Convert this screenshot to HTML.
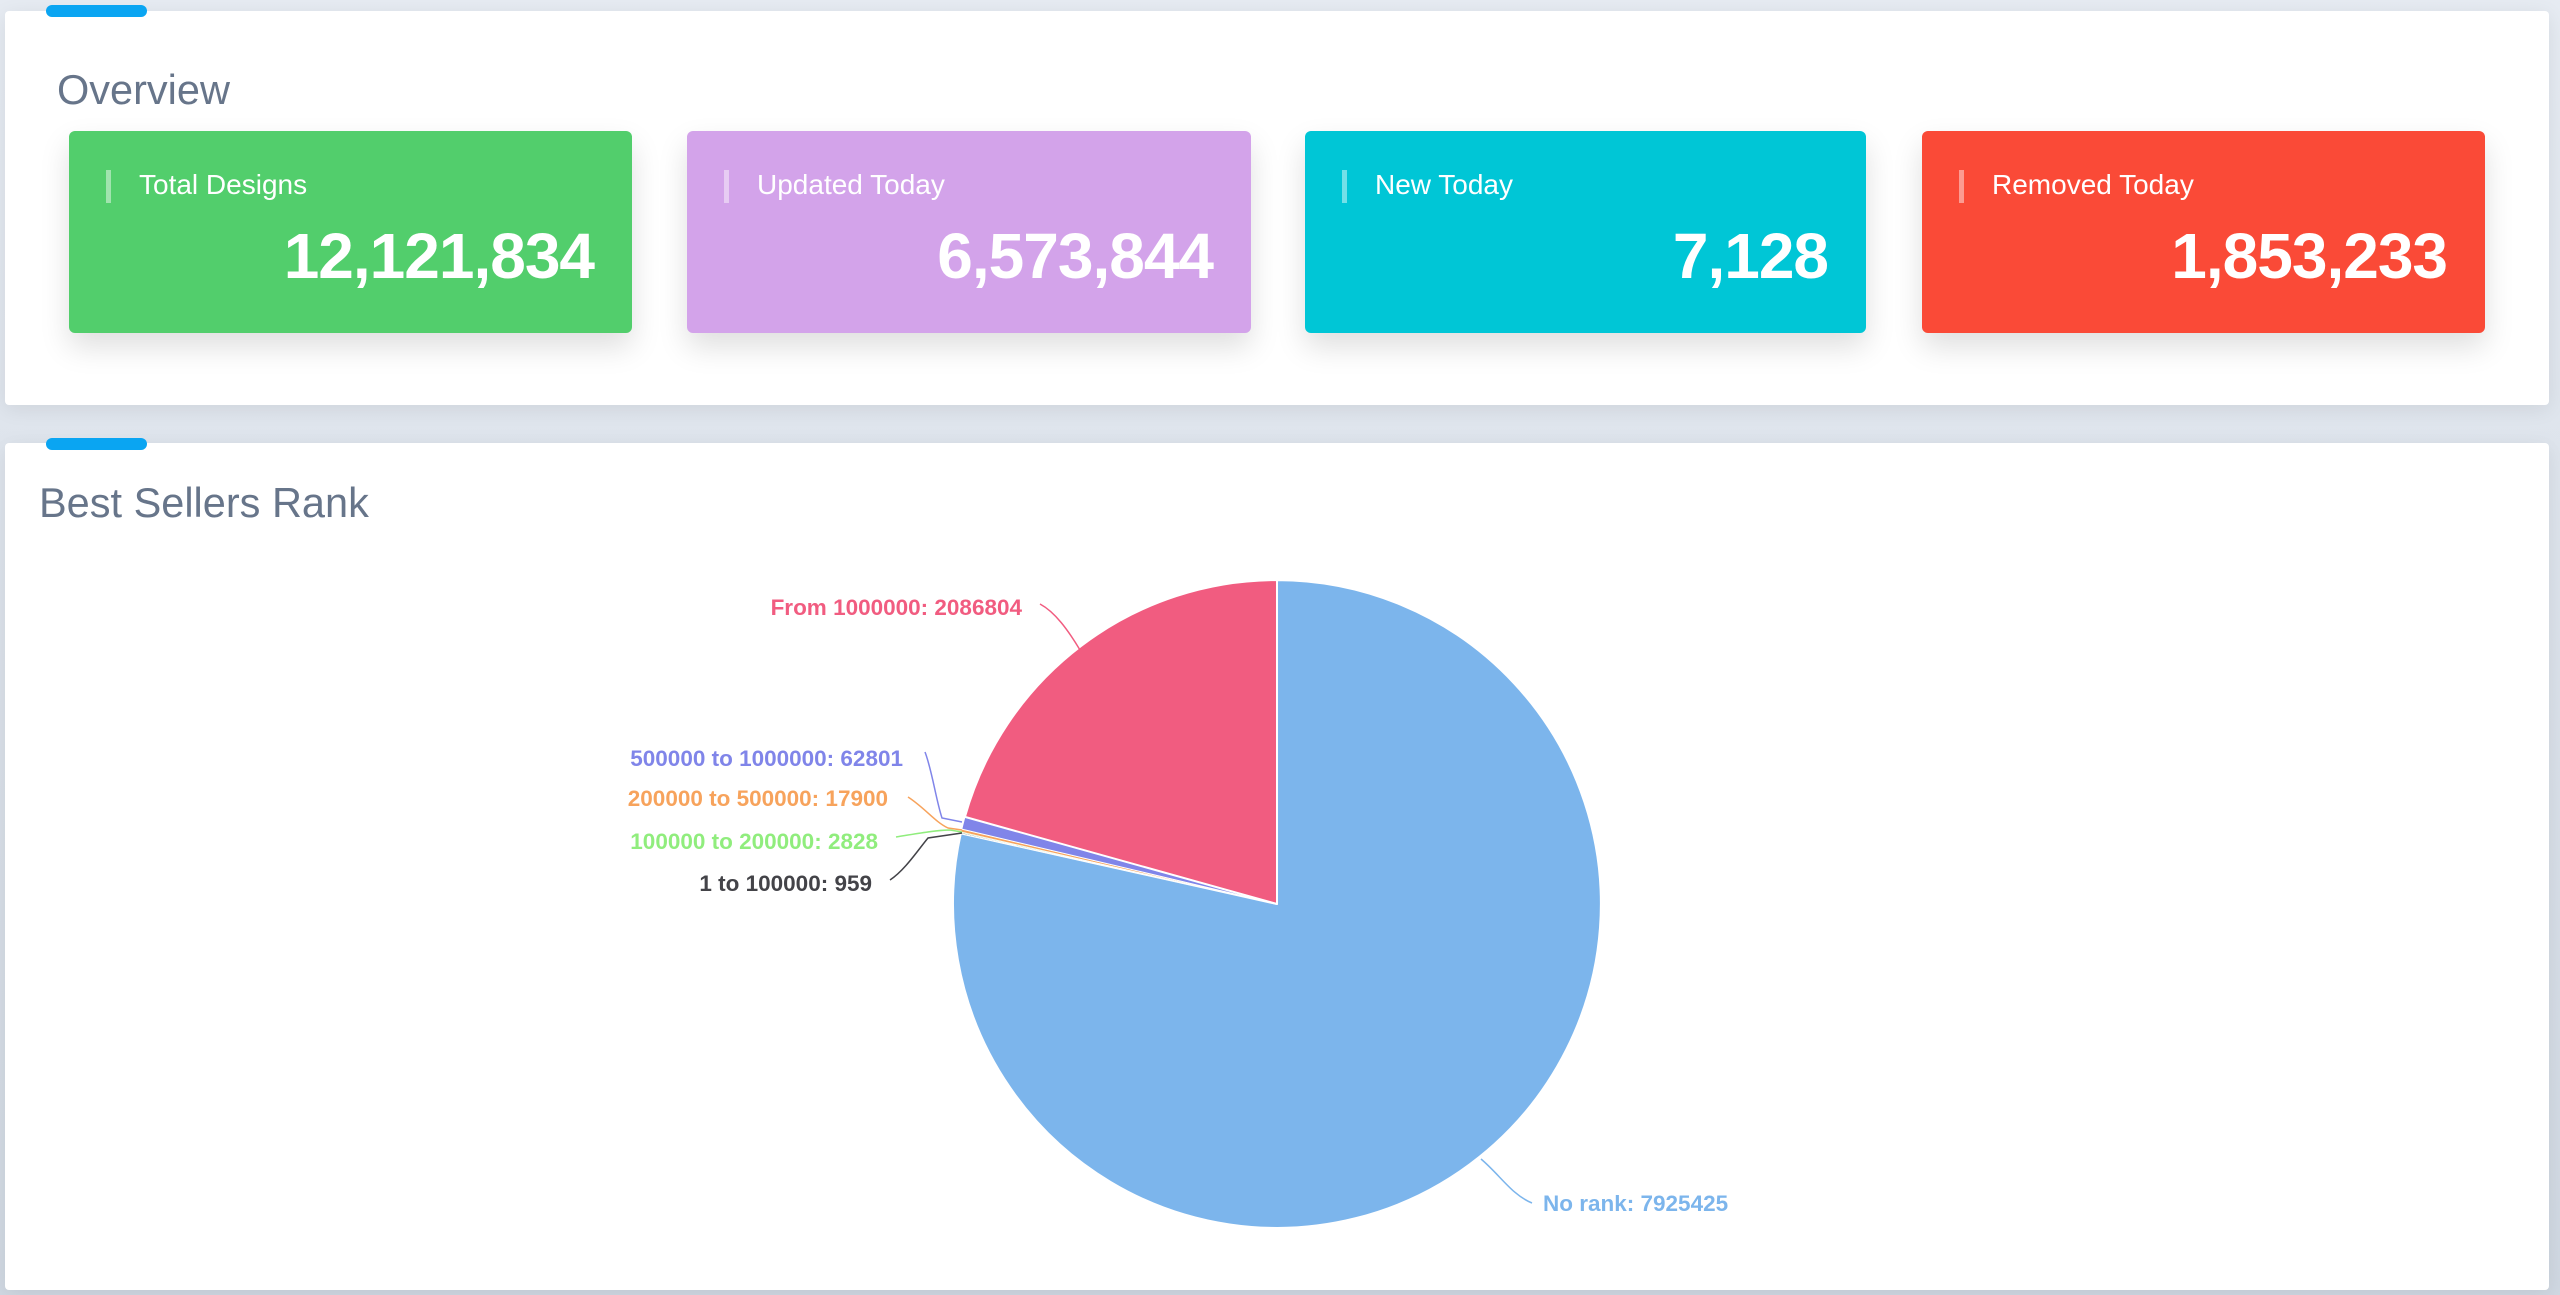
<!DOCTYPE html>
<html><head><meta charset="utf-8"><style>
body{margin:0;width:2560px;height:1295px;background:linear-gradient(#e6ebf2,#d0d8e2);font-family:"Liberation Sans",sans-serif;position:relative;overflow:hidden}
.card{position:absolute;left:5px;width:2544px;background:#fff;border-radius:4px;box-shadow:0 4px 20px rgba(0,0,0,0.08)}
.tab{position:absolute;left:46px;width:101px;height:12px;background:#0aa5f2;border-radius:6px}
.title{position:absolute;color:#67758a;font-size:41.5px}
.stat{position:absolute;top:131px;height:202px;border-radius:6px;box-shadow:0 14px 30px rgba(0,0,0,0.13);color:#fff}
.stat .bar{position:absolute;left:37px;top:39px;width:5px;height:33px;background:rgba(255,255,255,0.45)}
.stat .lbl{position:absolute;left:70px;top:38px;font-size:28px}
.stat .num{position:absolute;right:38px;top:88px;font-size:64px;font-weight:bold;letter-spacing:-1px}
</style></head><body>
<div class="card" style="top:11px;height:394px"></div>
<div class="tab" style="top:5px"></div>
<div class="title" style="left:57px;top:66px">Overview</div>
<div class="stat" style="left:69px;width:563px;background:#52ce6c"><div class="bar"></div><div class="lbl">Total Designs</div><div class="num">12,121,834</div></div>
<div class="stat" style="left:687px;width:564px;background:#d3a3ea"><div class="bar"></div><div class="lbl">Updated Today</div><div class="num">6,573,844</div></div>
<div class="stat" style="left:1305px;width:561px;background:#00c6d6"><div class="bar"></div><div class="lbl">New Today</div><div class="num">7,128</div></div>
<div class="stat" style="left:1922px;width:563px;background:#fa4a37"><div class="bar"></div><div class="lbl">Removed Today</div><div class="num">1,853,233</div></div>
<div class="card" style="top:443px;height:847px"></div>
<div class="tab" style="top:438px"></div>
<div class="title" style="left:39px;top:479px">Best Sellers Rank</div>
<svg style="position:absolute;left:0;top:0" width="2560" height="1295">
<g transform="translate(1277,904) scale(1.006) translate(-1277,-903)">
<g stroke="#fff" stroke-width="2" stroke-linejoin="round">
<path d="M1277,903 L1277,581 A322,322 0 1 1 962.7,832.8 Z" fill="#7cb5ec"/>
<path d="M1277,903 L962.7,832.8 A322,322 0 0 1 962.9,832.1 Z" fill="#434348" stroke-width="0.5"/>
<path d="M1277,903 L962.9,832.1 A322,322 0 0 1 963.1,831.3 Z" fill="#90ed7d" stroke-width="0.5"/>
<path d="M1277,903 L963.1,831.3 A322,322 0 0 1 963.7,828.6 Z" fill="#f7a35c" stroke-width="0.5"/>
<path d="M1277,903 L963.7,828.6 A322,322 0 0 1 966.8,816.4 Z" fill="#8085e9" stroke-width="1"/>
<path d="M1277,903 L966.8,816.4 A322,322 0 0 1 1277,581 Z" fill="#f15c80"/>
</g>
</g>
<g fill="none" stroke-width="1.5">
<path d="M1040,604 C1055,612 1068,630 1080,650" stroke="#f15c80"/>
<path d="M925,752 C932,770 936,800 942,818 L962,822" stroke="#8085e9"/>
<path d="M908,797 C925,808 935,822 948,828 L962,830" stroke="#f7a35c"/>
<path d="M896,837 C915,834 935,830 950,830 L962,832" stroke="#90ed7d"/>
<path d="M890,880 C905,870 918,850 928,838 L962,833" stroke="#434348"/>
<path d="M1481,1159 C1500,1175 1512,1195 1532,1203" stroke="#7cb5ec"/>
</g>
<g font-family="Liberation Sans, sans-serif" font-weight="bold" font-size="22.5" text-anchor="end">
<text x="1022" y="615" fill="#f15c80">From 1000000: 2086804</text>
<text x="903" y="766" fill="#8085e9">500000 to 1000000: 62801</text>
<text x="888" y="806" fill="#f7a35c">200000 to 500000: 17900</text>
<text x="878" y="849" fill="#90ed7d">100000 to 200000: 2828</text>
<text x="872" y="891" fill="#434348">1 to 100000: 959</text>
<text x="1543" y="1211" fill="#7cb5ec" text-anchor="start">No rank: 7925425</text>
</g>
</svg>
</body></html>
